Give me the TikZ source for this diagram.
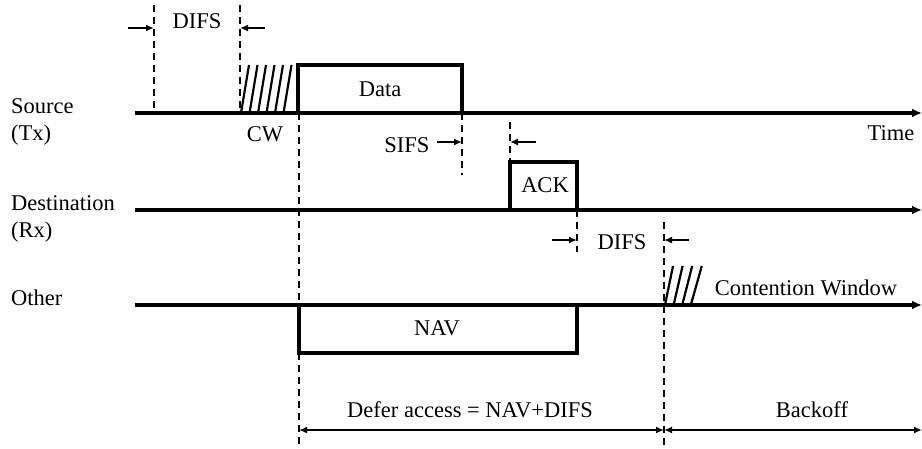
\documentclass[tikz,border=0pt]{standalone}
\usepackage{fontspec}
\setmainfont{Liberation Serif}
\usetikzlibrary{arrows.meta}
\begin{document}
\begin{tikzpicture}[x=1pt,y=-1pt,
  lbl/.style={font=\fontsize{22.5}{24}\selectfont, inner sep=0pt},
  axisline/.style={line width=3.2pt, -{Latex[length=10pt,width=9pt]}},
  frame/.style={line width=3.2pt},
  guide/.style={line width=1.4pt, dash pattern=on 7pt off 5pt},
  marker/.style={line width=2pt, -{Latex[length=8pt,width=7pt]}},
  dim/.style={line width=2pt, {Latex[length=8pt,width=7pt]}-{Latex[length=8pt,width=7pt]}},
  hatch/.style={line width=2.2pt}]
\useasboundingbox (0,0) rectangle (922,448);

% coordinates
\coordinate (s0) at (135,113); \coordinate (s1) at (922,113);
\coordinate (d0) at (135,210); \coordinate (d1) at (922,210);
\coordinate (o0) at (135,305); \coordinate (o1) at (922,305);

% time lines
\draw[axisline] (s0) -- (s1);
\draw[axisline] (d0) -- (d1);
\draw[axisline] (o0) -- (o1);

% boxes
\draw[frame] (298,113) -- (298,65) -- (462,65) -- (462,113);
\draw[frame] (510,210) -- (510,162) -- (577,162) -- (577,210);
\draw[frame] (299,305) -- (299,353) -- (577,353) -- (577,305);

% dashed guides
\draw[guide] (154,5) -- (154,113);
\draw[guide] (240,5) -- (240,113);
\draw[guide] (299,113) -- (299,448);
\draw[guide] (462,113) -- (462,175);
\draw[guide] (510,122) -- (510,162);
\draw[guide] (577,210) -- (577,252);
\draw[guide] (664,222) -- (664,448);

% hatches
\foreach \i in {0,...,5} {
  \draw[hatch] ({241+8.5*\i},113) -- ({249+8.5*\i},65);
}
\foreach \i in {0,...,3} {
  \draw[hatch] ({665+8.6*\i},305) -- ({673+9.6*\i},266);
}

% markers
\coordinate (m1a) at (128,28); \coordinate (m1b) at (154,28);
\coordinate (m2a) at (265,28); \coordinate (m2b) at (240,28);
\coordinate (m3a) at (437,142); \coordinate (m3b) at (462,142);
\coordinate (m4a) at (536,142); \coordinate (m4b) at (510,142);
\coordinate (m5a) at (552,240); \coordinate (m5b) at (577,240);
\coordinate (m6a) at (689,240); \coordinate (m6b) at (664,240);
\draw[marker] (m1a) -- (m1b);
\draw[marker] (m2a) -- (m2b);
\draw[marker] (m3a) -- (m3b);
\draw[marker] (m4a) -- (m4b);
\draw[marker] (m5a) -- (m5b);
\draw[marker] (m6a) -- (m6b);

% dimension arrows
\coordinate (b0) at (299,430); \coordinate (b1) at (664,430); \coordinate (b2) at (922,430);
\draw[dim] (b0) -- (b1);
\draw[dim] (b1) -- (b2);

% labels
\node[lbl] (difs1) at (197,21) {DIFS};
\node[lbl] (cw) at (265,134) {CW};
\node[lbl] (data) at (380,89) {Data};
\node[lbl] (sifs) at (407,145) {SIFS};
\node[lbl] (ack) at (545,185) {ACK};
\node[lbl] (difs2) at (622,242) {DIFS};
\node[lbl] (cwin) at (806,288) {Contention Window};
\node[lbl] (nav) at (437,328) {NAV};
\node[lbl] (defer) at (470,410) {Defer access = NAV+DIFS};
\node[lbl] (backoff) at (812,410) {Backoff};
\node[lbl] (time) at (891,133) {Time};
\node[lbl, anchor=west] (src) at (11,106) {Source};
\node[lbl, anchor=west] (tx) at (11,135) {(Tx)};
\node[lbl, anchor=west] (dst) at (11,203) {Destination};
\node[lbl, anchor=west] (rx) at (11,232) {(Rx)};
\node[lbl, anchor=west] (oth) at (11,298) {Other};
\end{tikzpicture}
\end{document}
